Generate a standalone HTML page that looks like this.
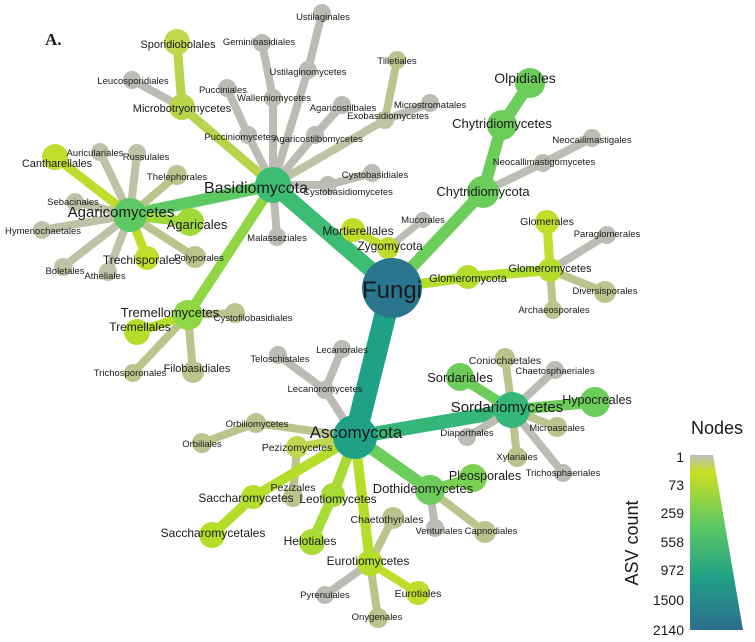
<!DOCTYPE html>
<html><head><meta charset="utf-8"><style>
html,body{margin:0;padding:0;background:#fff;width:755px;height:642px;overflow:hidden}
svg{display:block}
text{font-family:"Liberation Sans",Arial,sans-serif;fill:#1a1a1a;text-anchor:middle}
</style></head><body>
<svg width="755" height="642" viewBox="0 0 755 642" xmlns="http://www.w3.org/2000/svg">
<defs>
<linearGradient id="lg" x1="0" y1="0" x2="0" y2="1">
<stop offset="0" stop-color="#bdbdbd"/>
<stop offset="0.1" stop-color="#c8e020"/>
<stop offset="0.4" stop-color="#5ec962"/>
<stop offset="0.7" stop-color="#21a086"/>
<stop offset="1" stop-color="#2c6e8e"/>
</linearGradient>
</defs>
<g stroke-linecap="round" fill="none">
<!-- Fungi main edges -->
<line x1="392" y1="288" x2="273" y2="185" stroke="#3dbc74" stroke-width="16"/>
<line x1="392" y1="288" x2="355" y2="437" stroke="#1fa187" stroke-width="22"/>
<line x1="392" y1="288" x2="483" y2="192" stroke="#6ccd5a" stroke-width="12"/>
<line x1="392" y1="288" x2="468" y2="277" stroke="#b5de2b" stroke-width="10"/>
<line x1="392" y1="288" x2="388" y2="248" stroke="#c0dc30" stroke-width="9"/>
<!-- Zygomycota -->
<line x1="388" y1="248" x2="353" y2="230" stroke="#c2dc2c" stroke-width="8"/>
<line x1="388" y1="248" x2="423" y2="220" stroke="#bcbcb4" stroke-width="7"/>
<!-- Chytrid -->
<line x1="483" y1="192" x2="502" y2="125" stroke="#6ccd5a" stroke-width="12"/>
<line x1="502" y1="125" x2="530" y2="83" stroke="#6ccd5a" stroke-width="12"/>
<line x1="483" y1="192" x2="543" y2="163" stroke="#bcbcb4" stroke-width="8"/>
<line x1="543" y1="163" x2="592" y2="138" stroke="#bcbcb4" stroke-width="8"/>
<!-- Glomero -->
<line x1="468" y1="277" x2="550" y2="270" stroke="#b5de2b" stroke-width="10"/>
<line x1="550" y1="270" x2="547" y2="222" stroke="#c2dc2c" stroke-width="9"/>
<line x1="550" y1="270" x2="607" y2="235" stroke="#bcbcb4" stroke-width="8"/>
<line x1="550" y1="270" x2="605" y2="292" stroke="#bcc48e" stroke-width="8"/>
<line x1="550" y1="270" x2="553" y2="310" stroke="#bcc48e" stroke-width="8"/>
<!-- Basidio -->
<line x1="273" y1="185" x2="130" y2="215" stroke="#5ec962" stroke-width="12"/>
<line x1="273" y1="185" x2="182" y2="107" stroke="#b8d44a" stroke-width="9"/>
<line x1="182" y1="107" x2="177" y2="42" stroke="#b8d44a" stroke-width="9"/>
<line x1="182" y1="107" x2="132" y2="80" stroke="#bcbcb4" stroke-width="8"/>
<line x1="273" y1="185" x2="248" y2="135" stroke="#bcbcb4" stroke-width="8"/>
<line x1="248" y1="135" x2="227" y2="88" stroke="#bcbcb4" stroke-width="8"/>
<line x1="273" y1="185" x2="273" y2="98" stroke="#bcbcb4" stroke-width="8"/>
<line x1="273" y1="98" x2="262" y2="43" stroke="#bcbcb4" stroke-width="8"/>
<line x1="273" y1="185" x2="308" y2="70" stroke="#bcbcb4" stroke-width="8"/>
<line x1="308" y1="70" x2="322" y2="13" stroke="#bcbcb4" stroke-width="8"/>
<line x1="273" y1="185" x2="315" y2="135" stroke="#bcbcb4" stroke-width="8"/>
<line x1="315" y1="135" x2="342" y2="105" stroke="#bcbcb4" stroke-width="8"/>
<line x1="273" y1="185" x2="385" y2="120" stroke="#c0c2a4" stroke-width="8"/>
<line x1="385" y1="120" x2="397" y2="60" stroke="#bcc48e" stroke-width="8"/>
<line x1="385" y1="120" x2="430" y2="103" stroke="#bcbcb4" stroke-width="8"/>
<line x1="273" y1="185" x2="328" y2="185" stroke="#bcbcb4" stroke-width="8"/>
<line x1="328" y1="185" x2="372" y2="173" stroke="#bcbcb4" stroke-width="8"/>
<line x1="273" y1="185" x2="277" y2="237" stroke="#bcbcb4" stroke-width="8"/>
<line x1="273" y1="185" x2="188" y2="315" stroke="#8fd744" stroke-width="10"/>
<!-- Agaricomycetes -->
<line x1="130" y1="215" x2="55" y2="157" stroke="#c2dc2c" stroke-width="9"/>
<line x1="130" y1="215" x2="100" y2="152" stroke="#c0c2a8" stroke-width="8"/>
<line x1="130" y1="215" x2="137" y2="153" stroke="#c0c2a8" stroke-width="8"/>
<line x1="130" y1="215" x2="177" y2="175" stroke="#bcc48e" stroke-width="8"/>
<line x1="130" y1="215" x2="75" y2="202" stroke="#c0c2a8" stroke-width="8"/>
<line x1="130" y1="215" x2="42" y2="230" stroke="#c0c2a8" stroke-width="8"/>
<line x1="130" y1="215" x2="63" y2="267" stroke="#c0c2a8" stroke-width="8"/>
<line x1="130" y1="215" x2="108" y2="272" stroke="#c0c2a8" stroke-width="8"/>
<line x1="130" y1="215" x2="147" y2="258" stroke="#c2dc2c" stroke-width="9"/>
<line x1="130" y1="215" x2="195" y2="257" stroke="#bcc48e" stroke-width="8"/>
<line x1="130" y1="215" x2="190" y2="222" stroke="#a0da39" stroke-width="10"/>
<!-- Tremello -->
<line x1="188" y1="315" x2="137" y2="332" stroke="#b5de2b" stroke-width="9"/>
<line x1="188" y1="315" x2="235" y2="313" stroke="#bcc48e" stroke-width="8"/>
<line x1="188" y1="315" x2="193" y2="372" stroke="#bcc48e" stroke-width="8"/>
<line x1="188" y1="315" x2="133" y2="373" stroke="#bcc48e" stroke-width="8"/>
<!-- Asco -->
<line x1="355" y1="437" x2="512" y2="410" stroke="#35b779" stroke-width="14"/>
<line x1="355" y1="437" x2="430" y2="490" stroke="#6ccd5a" stroke-width="12"/>
<line x1="355" y1="437" x2="325" y2="390" stroke="#bcbcb4" stroke-width="8"/>
<line x1="325" y1="390" x2="342" y2="349" stroke="#bcbcb4" stroke-width="8"/>
<line x1="325" y1="390" x2="278" y2="355" stroke="#bcbcb4" stroke-width="8"/>
<line x1="355" y1="437" x2="256" y2="423" stroke="#bcc48e" stroke-width="8"/>
<line x1="256" y1="423" x2="202" y2="443" stroke="#bcc48e" stroke-width="8"/>
<line x1="355" y1="437" x2="297" y2="447" stroke="#c0d850" stroke-width="8"/>
<line x1="297" y1="447" x2="293" y2="497" stroke="#bcc48e" stroke-width="8"/>
<line x1="355" y1="437" x2="253" y2="497" stroke="#b5de2b" stroke-width="10"/>
<line x1="253" y1="497" x2="212" y2="535" stroke="#b5de2b" stroke-width="10"/>
<line x1="355" y1="437" x2="333" y2="495" stroke="#a8db34" stroke-width="10"/>
<line x1="333" y1="495" x2="312" y2="542" stroke="#a8db34" stroke-width="10"/>
<line x1="355" y1="437" x2="370" y2="563" stroke="#b5de2b" stroke-width="10"/>
<line x1="370" y1="563" x2="393" y2="518" stroke="#bcc48e" stroke-width="8"/>
<line x1="370" y1="563" x2="325" y2="595" stroke="#bcbcb4" stroke-width="8"/>
<line x1="370" y1="563" x2="378" y2="618" stroke="#bcc48e" stroke-width="8"/>
<line x1="370" y1="563" x2="418" y2="593" stroke="#c2dc2c" stroke-width="8"/>
<line x1="430" y1="490" x2="473" y2="478" stroke="#7ad151" stroke-width="10"/>
<line x1="430" y1="490" x2="435" y2="528" stroke="#bcbcb4" stroke-width="8"/>
<line x1="430" y1="490" x2="485" y2="532" stroke="#bcc48e" stroke-width="8"/>
<line x1="512" y1="410" x2="460" y2="377" stroke="#6ccd5a" stroke-width="10"/>
<line x1="512" y1="410" x2="505" y2="358" stroke="#bcc48e" stroke-width="8"/>
<line x1="512" y1="410" x2="555" y2="370" stroke="#bcbcb4" stroke-width="8"/>
<line x1="512" y1="410" x2="595" y2="402" stroke="#6ccd5a" stroke-width="11"/>
<line x1="512" y1="410" x2="557" y2="427" stroke="#bcc48e" stroke-width="8"/>
<line x1="512" y1="410" x2="563" y2="473" stroke="#bcbcb4" stroke-width="8"/>
<line x1="512" y1="410" x2="517" y2="457" stroke="#bcc48e" stroke-width="8"/>
<line x1="512" y1="410" x2="467" y2="437" stroke="#bcbcb4" stroke-width="8"/>
</g>
<g stroke="none">
<!-- nodes -->
<circle cx="355" cy="437" r="22" fill="#1fa187"/>
<circle cx="273" cy="185" r="18" fill="#3dbc74"/>
<circle cx="483" cy="192" r="16" fill="#6ccd5a"/>
<circle cx="502" cy="125" r="15" fill="#6ccd5a"/>
<circle cx="530" cy="83" r="15" fill="#6ccd5a"/>
<circle cx="543" cy="163" r="9" fill="#bcbcb4"/>
<circle cx="592" cy="138" r="9" fill="#bcbcb4"/>
<circle cx="388" cy="248" r="11" fill="#c0dc30"/>
<circle cx="353" cy="230" r="12" fill="#c2dc2c"/>
<circle cx="423" cy="220" r="8" fill="#bcbcb4"/>
<circle cx="468" cy="277" r="12" fill="#b5de2b"/>
<circle cx="550" cy="270" r="12" fill="#b5de2b"/>
<circle cx="547" cy="222" r="12" fill="#c2dc2c"/>
<circle cx="607" cy="235" r="9" fill="#bcbcb4"/>
<circle cx="605" cy="292" r="11" fill="#bcc48e"/>
<circle cx="553" cy="310" r="9" fill="#bcc48e"/>
<circle cx="130" cy="215" r="17" fill="#5ec962"/>
<circle cx="55" cy="157" r="13" fill="#c2dc2c"/>
<circle cx="100" cy="152" r="9" fill="#c0c2a8"/>
<circle cx="137" cy="153" r="9" fill="#c0c2a8"/>
<circle cx="177" cy="175" r="10" fill="#bcc48e"/>
<circle cx="75" cy="202" r="9" fill="#c0c2a8"/>
<circle cx="42" cy="230" r="9" fill="#c0c2a8"/>
<circle cx="63" cy="267" r="9" fill="#c0c2a8"/>
<circle cx="108" cy="272" r="9" fill="#c0c2a8"/>
<circle cx="147" cy="258" r="12" fill="#c2dc2c"/>
<circle cx="195" cy="257" r="11" fill="#bcc48e"/>
<circle cx="190" cy="222" r="14" fill="#a0da39"/>
<circle cx="182" cy="107" r="13" fill="#b8d44a"/>
<circle cx="177" cy="42" r="13" fill="#c0d850"/>
<circle cx="132" cy="80" r="9" fill="#bcbcb4"/>
<circle cx="248" cy="135" r="9" fill="#bcbcb4"/>
<circle cx="227" cy="88" r="9" fill="#bcbcb4"/>
<circle cx="273" cy="98" r="9" fill="#bcbcb4"/>
<circle cx="262" cy="43" r="9" fill="#bcbcb4"/>
<circle cx="308" cy="70" r="9" fill="#bcbcb4"/>
<circle cx="322" cy="13" r="9" fill="#bcbcb4"/>
<circle cx="315" cy="135" r="9" fill="#bcbcb4"/>
<circle cx="342" cy="105" r="9" fill="#bcbcb4"/>
<circle cx="385" cy="120" r="9" fill="#c0c2a4"/>
<circle cx="397" cy="60" r="9" fill="#bcc48e"/>
<circle cx="430" cy="103" r="9" fill="#bcbcb4"/>
<circle cx="328" cy="185" r="9" fill="#bcbcb4"/>
<circle cx="372" cy="173" r="9" fill="#bcbcb4"/>
<circle cx="277" cy="237" r="9" fill="#bcbcb4"/>
<circle cx="188" cy="315" r="15" fill="#8fd744"/>
<circle cx="137" cy="332" r="13" fill="#b5de2b"/>
<circle cx="235" cy="313" r="10" fill="#bcc48e"/>
<circle cx="193" cy="372" r="11" fill="#bcc48e"/>
<circle cx="133" cy="373" r="9" fill="#bcc48e"/>
<circle cx="512" cy="410" r="18" fill="#35b779"/>
<circle cx="460" cy="377" r="14" fill="#6ccd5a"/>
<circle cx="505" cy="358" r="10" fill="#bcc48e"/>
<circle cx="555" cy="370" r="9" fill="#bcbcb4"/>
<circle cx="595" cy="402" r="15" fill="#6ccd5a"/>
<circle cx="557" cy="427" r="10" fill="#bcc48e"/>
<circle cx="563" cy="473" r="9" fill="#bcbcb4"/>
<circle cx="517" cy="457" r="10" fill="#bcc48e"/>
<circle cx="467" cy="437" r="9" fill="#bcbcb4"/>
<circle cx="430" cy="490" r="15" fill="#6ccd5a"/>
<circle cx="473" cy="478" r="14" fill="#7ad151"/>
<circle cx="435" cy="528" r="9" fill="#bcbcb4"/>
<circle cx="485" cy="532" r="11" fill="#bcc48e"/>
<circle cx="325" cy="390" r="9" fill="#bcbcb4"/>
<circle cx="342" cy="349" r="9" fill="#bcbcb4"/>
<circle cx="278" cy="355" r="9" fill="#bcbcb4"/>
<circle cx="256" cy="423" r="10" fill="#bcc48e"/>
<circle cx="202" cy="443" r="10" fill="#bcc48e"/>
<circle cx="297" cy="447" r="11" fill="#c0d850"/>
<circle cx="293" cy="497" r="10" fill="#bcc48e"/>
<circle cx="253" cy="497" r="12" fill="#b5de2b"/>
<circle cx="212" cy="535" r="13" fill="#b5de2b"/>
<circle cx="333" cy="495" r="12" fill="#a8db34"/>
<circle cx="312" cy="542" r="13" fill="#a8db34"/>
<circle cx="370" cy="563" r="13" fill="#b5de2b"/>
<circle cx="393" cy="518" r="11" fill="#bcc48e"/>
<circle cx="325" cy="595" r="9" fill="#bcbcb4"/>
<circle cx="378" cy="618" r="10" fill="#bcc48e"/>
<circle cx="418" cy="593" r="12" fill="#c2dc2c"/>
<circle cx="392" cy="288" r="30" fill="#2a768e"/>
</g>
<!-- labels -->
<text x="45" y="45" style="font-family:'Liberation Serif',serif;font-weight:bold;font-size:17px;text-anchor:start">A.</text>
<g font-size="9.5">
<text x="259" y="45">Geminibasidiales</text>
<text x="323" y="20">Ustilaginales</text>
<text x="308" y="75">Ustilaginomycetes</text>
<text x="133" y="84">Leucosporidiales</text>
<text x="223" y="93">Pucciniales</text>
<text x="274" y="101">Wallemiomycetes</text>
<text x="343" y="111">Agaricostilbales</text>
<text x="388" y="119">Exobasidiomycetes</text>
<text x="397" y="64">Tilletiales</text>
<text x="430" y="108">Microstromatales</text>
<text x="240" y="140">Pucciniomycetes</text>
<text x="318" y="142">Agaricostilbomycetes</text>
<text x="95" y="156">Auriculariales</text>
<text x="146" y="160">Russulales</text>
<text x="177" y="180">Thelephorales</text>
<text x="375" y="178">Cystobasidiales</text>
<text x="348" y="195">Cystobasidiomycetes</text>
<text x="73" y="205">Sebacinales</text>
<text x="43" y="234">Hymenochaetales</text>
<text x="277" y="241">Malasseziales</text>
<text x="423" y="223">Mucorales</text>
<text x="199" y="261">Polyporales</text>
<text x="65" y="274">Boletales</text>
<text x="105" y="279">Atheliales</text>
<text x="253" y="321">Cystofilobasidiales</text>
<text x="130" y="376">Trichosporonales</text>
<text x="592" y="143">Neocallimastigales</text>
<text x="544" y="165">Neocallimastigomycetes</text>
<text x="607" y="237">Paraglomerales</text>
<text x="605" y="294">Diversisporales</text>
<text x="554" y="313">Archaeosporales</text>
<text x="342" y="353">Lecanorales</text>
<text x="280" y="362">Teloschistales</text>
<text x="325" y="392">Lecanoromycetes</text>
<text x="257" y="427">Orbiliomycetes</text>
<text x="202" y="447">Orbiliales</text>
<text x="439" y="534">Venturiales</text>
<text x="491" y="534">Capnodiales</text>
<text x="325" y="598">Pyrenulales</text>
<text x="377" y="620">Onygenales</text>
<text x="555" y="374">Chaetosphaeriales</text>
<text x="557" y="431">Microascales</text>
<text x="467" y="436">Diaporthales</text>
<text x="517" y="460">Xylariales</text>
<text x="563" y="476">Trichosphaeriales</text>
</g>
<g font-size="10.5">
<text x="547" y="225">Glomerales</text>
<text x="297" y="451">Pezizomycetes</text>
<text x="293" y="491">Pezizales</text>
<text x="387" y="523">Chaetothyriales</text>
<text x="418" y="597">Eurotiales</text>
<text x="505" y="364">Coniochaetales</text>
</g>
<g font-size="11">
<text x="178" y="48">Sporidiobolales</text>
<text x="182" y="112">Microbotryomycetes</text>
<text x="57" y="167">Cantharellales</text>
<text x="197" y="372">Filobasidiales</text>
<text x="550" y="272">Glomeromycetes</text>
<text x="468" y="282">Glomeromycota</text>
</g>
<g font-size="12">
<text x="358" y="235">Mortierellales</text>
<text x="390" y="250">Zygomycota</text>
<text x="142" y="264">Trechisporales</text>
<text x="140" y="331">Tremellales</text>
<text x="246" y="502">Saccharomycetes</text>
<text x="338" y="503">Leotiomycetes</text>
<text x="213" y="537">Saccharomycetales</text>
<text x="310" y="545">Helotiales</text>
<text x="368" y="565">Eurotiomycetes</text>
<text x="485" y="480" font-size="12.5">Pleosporales</text>
<text x="597" y="404" font-size="12.5">Hypocreales</text>
</g>
<g font-size="13">
<text x="197" y="229">Agaricales</text>
<text x="170" y="317">Tremellomycetes</text>
<text x="502" y="128">Chytridiomycetes</text>
<text x="483" y="196">Chytridiomycota</text>
<text x="423" y="493">Dothideomycetes</text>
<text x="460" y="382">Sordariales</text>
<text x="525" y="83" font-size="14">Olpidiales</text>
</g>
<text x="121" y="217" font-size="15">Agaricomycetes</text>
<text x="507" y="412" font-size="15">Sordariomycetes</text>
<text x="256" y="193" font-size="16">Basidiomycota</text>
<text x="356" y="438" font-size="17">Ascomycota</text>
<text x="392" y="298" font-size="24">Fungi</text>
<!-- legend -->
<text x="717" y="434" font-size="18">Nodes</text>
<polygon points="690,455 713,455 743,630 690,630" fill="url(#lg)"/>
<g font-size="14" style="text-anchor:end">
<text x="684" y="462" style="text-anchor:end">1</text>
<text x="684" y="490" style="text-anchor:end">73</text>
<text x="684" y="518" style="text-anchor:end">259</text>
<text x="684" y="547" style="text-anchor:end">558</text>
<text x="684" y="575" style="text-anchor:end">972</text>
<text x="684" y="605" style="text-anchor:end">1500</text>
<text x="684" y="635" style="text-anchor:end">2140</text>
</g>
<text x="0" y="0" font-size="18" transform="translate(638,543) rotate(-90)">ASV count</text>
</svg>
</body></html>
